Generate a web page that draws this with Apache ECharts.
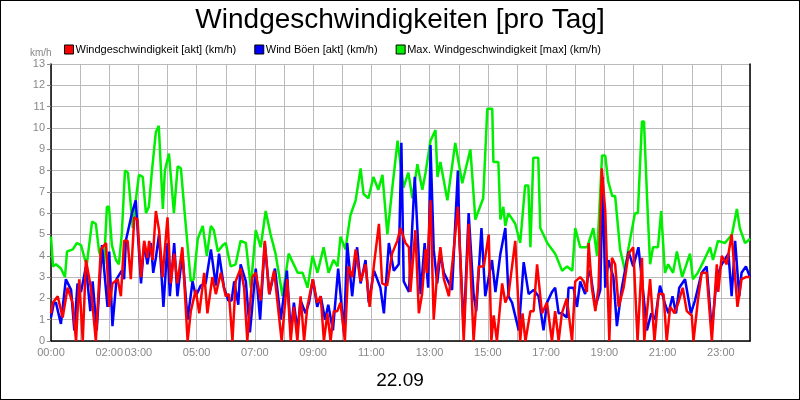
<!DOCTYPE html>
<html><head><meta charset="utf-8">
<script src="https://cdn.jsdelivr.net/npm/echarts@6/dist/echarts.min.js"></script>
<style>html,body{margin:0;padding:0;background:#fff}#c{width:798px;height:398px;border:1px solid #000}</style>
</head><body><div id="c"></div>
<script>
const seriesNames = ["Windgeschwindigkeit [akt] (km/h)", "Wind Böen [akt] (km/h)", "Max. Windgeschwindigkeit [max] (km/h)"];
const xTickLabels = ["00:00","02:00","03:00","05:00","07:00","09:00","11:00","13:00","15:00","17:00","19:00","21:00","23:00"];
const labeledHours = [0,2,3,5,7,9,11,13,15,17,19,21,23];
const dateLabel = "22.09";
// [hour, km/h]
const red = [[0,1.3],[.06,1.8],[.23,2.1],[.4,1.1],[.57,2.5],[.74,1.8],[.86,0],[.97,2.9],[1.09,0],[1.2,3.8],[1.37,2.5],[1.54,0],[1.71,4.3],[1.89,4.6],[2,1.6],[2.11,2.7],[2.29,2.9],[2.4,2.1],[2.51,4.7],[2.63,4.7],[2.74,2.9],[2.86,5.8],[2.97,5.7],[3.09,3],[3.2,4.7],[3.31,3.9],[3.37,4.7],[3.49,3.8],[3.6,6.1],[3.71,5.2],[3.83,3],[4,5.8],[4.11,2.7],[4.23,4.1],[4.34,2.7],[4.51,4.4],[4.69,0],[4.8,1.4],[4.97,2.4],[5.09,1.3],[5.26,3.2],[5.37,1.3],[5.54,3],[5.66,2.2],[5.83,3.2],[6,2.1],[6.11,2.2],[6.23,0],[6.34,2.8],[6.51,3.4],[6.63,2.5],[6.74,0],[6.91,3],[7.03,3.2],[7.2,1.9],[7.34,4.7],[7.49,2.2],[7.66,3.3],[7.77,1.9],[7.92,0],[8.11,2.9],[8.23,0],[8.34,1.6],[8.46,0],[8.57,2.1],[8.69,0],[8.8,1.6],[8.99,2.9],[9.14,1.8],[9.26,2.1],[9.37,0],[9.49,1.3],[9.6,0],[9.71,1.4],[9.83,1.4],[9.94,1.8],[10.09,0],[10.21,3.5],[10.34,3],[10.46,4.3],[10.63,2.8],[10.8,3.6],[10.94,1.6],[11.09,3.6],[11.26,5.5],[11.37,2.7],[11.54,2.6],[11.71,4.1],[11.89,4.7],[12,5.3],[12.17,4.6],[12.29,4.4],[12.34,2.3],[12.51,5.2],[12.63,1.3],[12.74,2.2],[12.86,4.3],[12.91,3.2],[13.03,6.6],[13.14,1],[13.26,3.2],[13.37,4.4],[13.49,2.9],[13.66,2.1],[13.8,3.9],[13.97,6.3],[14.06,3.8],[14.17,0],[14.34,5.5],[14.51,0],[14.69,3.5],[14.86,3.5],[15.03,5],[15.12,0],[15.2,1.2],[15.31,0],[15.49,2.7],[15.6,1.8],[15.71,2.2],[15.94,4.7],[16.11,0],[16.19,1.3],[16.29,0],[16.46,1.4],[16.57,1.4],[16.69,3.6],[16.86,1.3],[17.03,1.8],[17.2,0],[17.31,1.4],[17.43,0],[17.54,1.3],[17.71,2],[17.89,0],[18,2.8],[18.17,3],[18.29,2.8],[18.4,2.3],[18.46,4.6],[18.57,2.5],[18.69,1.4],[18.8,2.5],[18.91,8.1],[19.03,6.1],[19.17,0],[19.26,3.9],[19.37,3.6],[19.49,1.6],[19.66,2.5],[19.83,4.1],[19.99,4.4],[20.14,0],[20.29,3.9],[20.37,0],[20.57,2.9],[20.72,0],[20.86,2.2],[21.03,2.2],[21.14,0],[21.26,1.6],[21.41,1.3],[21.54,1.8],[21.69,2.5],[21.83,1.4],[22,1.2],[22.06,0],[22.21,1.9],[22.34,3.2],[22.51,3.2],[22.69,0],[22.86,3.6],[22.91,2.3],[23.03,4],[23.2,3.6],[23.37,5],[23.57,1.6],[23.71,2.9],[23.86,3],[24,3]];
const blue = [[0,1.1],[.1,1.8],[.17,1.8],[.34,.8],[.51,2.9],[.69,2.4],[.8,.5],[.91,2.7],[1.03,2.3],[1.2,3.5],[1.35,1.4],[1.43,2.8],[1.57,.5],[1.75,4.5],[1.94,1.6],[2,4.2],[2.11,.7],[2.25,2.9],[2.43,3.3],[2.51,2.9],[2.57,4.7],[2.78,6],[2.91,6.6],[3.09,2.7],[3.2,4.6],[3.31,3.6],[3.43,4.6],[3.51,3.2],[3.6,3.9],[3.71,5],[3.86,1.6],[4,4.6],[4.08,2.1],[4.23,4.6],[4.34,2.1],[4.51,4.1],[4.69,1],[4.86,2.8],[4.97,2.1],[5.14,2.6],[5.31,2.7],[5.49,4.3],[5.66,2.6],[5.77,4.1],[5.94,2.5],[6.09,1.9],[6.2,1.9],[6.29,2.8],[6.43,1.7],[6.51,3.6],[6.69,2.8],[6.83,.4],[7.03,3.4],[7.18,1],[7.34,4.6],[7.5,2.2],[7.69,3.4],[7.89,1],[8.1,3.3],[8.23,.4],[8.34,1.8],[8.46,.5],[8.57,1.9],[8.74,1.3],[8.86,1.8],[8.99,2.9],[9.14,1.6],[9.26,2.1],[9.41,1],[9.52,1.7],[9.68,.5],[9.86,3.4],[10.06,.4],[10.17,4.6],[10.34,2.1],[10.51,4.4],[10.63,2.7],[10.8,3.8],[10.91,1.8],[11.09,3.3],[11.31,2.5],[11.43,1.3],[11.6,4.6],[11.77,3.3],[11.94,3.6],[12.03,9.3],[12.11,2.8],[12.29,2.3],[12.49,7.7],[12.69,2.2],[12.83,4.6],[12.95,2.5],[13.03,9.2],[13.14,4.3],[13.26,2.7],[13.37,4.1],[13.49,3.2],[13.6,2.9],[13.77,2.4],[13.97,8],[14.03,4.6],[14.17,.5],[14.34,6],[14.51,2.2],[14.6,1.4],[14.78,5.3],[14.91,2.1],[15.14,3.8],[15.26,2.3],[15.43,4.1],[15.6,5.3],[15.71,2.1],[15.83,1.8],[16.06,.5],[16.23,3.7],[16.4,2.2],[16.57,2.4],[16.74,2.1],[16.91,.5],[17.03,1.8],[17.2,2.3],[17.31,2.5],[17.43,1.3],[17.54,1.3],[17.71,1.1],[17.77,2.5],[17.94,2.5],[18.06,1.6],[18.17,2.8],[18.34,2.2],[18.46,3.2],[18.51,3.3],[18.69,1.6],[18.86,2.4],[18.94,7.7],[19.03,2.5],[19.14,3.8],[19.31,3],[19.43,.7],[19.6,2.5],[19.83,4.2],[19.99,3.5],[20.17,4.4],[20.34,2.2],[20.46,.5],[20.61,1.3],[20.74,1],[20.91,2.6],[21.09,1.7],[21.2,1.3],[21.34,2.1],[21.46,1.3],[21.57,2.5],[21.77,2.9],[21.97,1.3],[22.11,1.9],[22.34,3.2],[22.51,3.5],[22.69,.5],[22.86,3],[23.03,3.6],[23.26,4.1],[23.37,2.1],[23.49,4.7],[23.63,2.1],[23.71,3.2],[23.86,3.5],[24,3]];
const green = [[0,4.9],[.07,3.5],[.17,3.6],[.34,3.4],[.48,3],[.55,4.2],[.75,4.3],[.89,4.6],[1.03,4.5],[1.17,3.8],[1.23,3.6],[1.41,5.6],[1.54,5.5],[1.65,4.2],[1.82,3.6],[1.92,6.3],[1.99,6.3],[2.09,4.5],[2.23,3.8],[2.33,3.6],[2.43,5],[2.54,8],[2.64,7.9],[2.81,5.3],[2.91,6.6],[3.02,7.8],[3.15,7.7],[3.26,6],[3.36,6.3],[3.46,7.9],[3.6,9.8],[3.7,10.1],[3.84,6.2],[3.91,8],[4.05,8.8],[4.11,8.8],[4.22,6],[4.35,8.2],[4.46,8.1],[4.59,6],[4.8,2.8],[4.9,2.9],[5.04,4.8],[5.21,5.4],[5.35,4],[5.49,5.4],[5.59,5.2],[5.73,4.2],[5.9,4.5],[6,4.6],[6.17,3.5],[6.34,3.6],[6.51,4.7],[6.69,4.6],[6.86,2.5],[7.03,5.2],[7.2,4.4],[7.37,6.1],[7.54,5],[7.71,4.1],[7.95,2.1],[8.16,4.1],[8.47,3.2],[8.64,3.2],[8.81,2.5],[8.98,4],[9.15,3.2],[9.36,4.4],[9.53,3.2],[9.7,3.8],[9.84,3.5],[9.94,4.9],[10.11,4.3],[10.28,5.9],[10.46,6.6],[10.63,8.1],[10.73,6.9],[10.9,6.7],[11.07,7.7],[11.24,7.1],[11.38,7.8],[11.55,5],[11.72,7.2],[11.9,9.4],[12.1,7.2],[12.27,7.9],[12.41,6.7],[12.58,8.3],[12.75,7.1],[12.86,7.9],[13.03,9.4],[13.2,9.9],[13.27,7.7],[13.37,8.4],[13.61,6.6],[13.88,9.3],[14.12,7.4],[14.4,9],[14.57,5.7],[14.84,6.7],[14.98,10.9],[15.15,10.9],[15.19,8.4],[15.36,8.4],[15.43,5.7],[15.53,6.3],[15.6,5.4],[15.7,6],[15.94,5.5],[16.11,4.6],[16.28,7.3],[16.39,7.3],[16.46,4.4],[16.56,8.6],[16.73,8.6],[16.8,5.3],[17.04,4.6],[17.31,4.1],[17.55,3.3],[17.72,3.5],[17.9,3.3],[18,5.3],[18.17,4.4],[18.41,4.4],[18.62,5.3],[18.75,4],[18.92,8.7],[19.03,8.7],[19.13,7.5],[19.27,6.8],[19.37,6.8],[19.54,4.3],[19.71,3.3],[19.82,4.3],[20.05,6],[20.15,6],[20.29,10.3],[20.36,10.3],[20.47,6.6],[20.57,3.6],[20.67,4.4],[20.84,4.4],[20.95,6.1],[21.08,3.2],[21.19,3.6],[21.36,3.2],[21.49,4.2],[21.67,3],[21.94,4.1],[22.04,2.9],[22.21,3.2],[22.39,3.7],[22.63,4.4],[22.73,3.8],[22.9,4.7],[23.14,4.6],[23.38,5],[23.55,6.2],[23.65,5.3],[23.83,4.6],[23.93,4.7],[24,4.8]];

const chart = echarts.init(document.getElementById('c'));
const font = 'Liberation Sans, Arial, sans-serif';
const mk = (name, data, color, z) => ({name, type:'line', data, showSymbol:false, symbol:'none', z,
  lineStyle:{color, width:2.5}, itemStyle:{color}, animation:false});
chart.setOption({
  animation:false,
  title:[{text:'Windgeschwindigkeiten [pro Tag]', left:'center', top:0, textStyle:{fontFamily:font, fontSize:28, fontWeight:'normal', color:'#000'}},
         {text:dateLabel, left:'center', top:365, textStyle:{fontFamily:font, fontSize:19, fontWeight:'normal', color:'#000'}},
         {text:'km/h', left:24, top:42, textStyle:{fontFamily:font, fontSize:10, fontWeight:'normal', color:'#888'}}],
  legend:{left:58, top:38, itemGap:18, itemWidth:9, itemHeight:9, icon:'rect',
    textStyle:{fontFamily:font, fontSize:11, color:'#000', padding:[0,0,0,-3]},
    itemStyle:{borderColor:'#000', borderWidth:1}, data:seriesNames},
  grid:{left:50, right:49, top:63, bottom:58},
  xAxis:{type:'value', min:0, max:24, interval:1,
    axisLine:{lineStyle:{color:'#000', width:1.5}}, axisTick:{show:false},
    splitLine:{show:true, lineStyle:{color:'#bbb', width:1}},
    axisLabel:{color:'#888', fontFamily:font, fontSize:11, margin:6,
      formatter:v => { const i = labeledHours.indexOf(v); return i>=0 ? xTickLabels[i] : ''; }}},
  yAxis:[{type:'value', min:0, max:13, interval:1,
    axisLine:{show:true, lineStyle:{color:'#000', width:1.5}}, axisTick:{show:true, length:4, lineStyle:{color:'#888'}},
    splitLine:{lineStyle:{color:'#bbb', width:1}},
    axisLabel:{color:'#888', fontFamily:font, fontSize:11, margin:6}},
    {type:'value', min:0, max:13, interval:1, position:'right', axisLine:{show:true, lineStyle:{color:'#000', width:1.5}},
     axisTick:{show:false}, axisLabel:{show:false}, splitLine:{show:false}}],
  series:[mk(seriesNames[2], green, '#00ee00', 1), mk(seriesNames[1], blue, '#0000ff', 2), mk(seriesNames[0], red, '#ff0000', 3)]
});
</script></body></html>
